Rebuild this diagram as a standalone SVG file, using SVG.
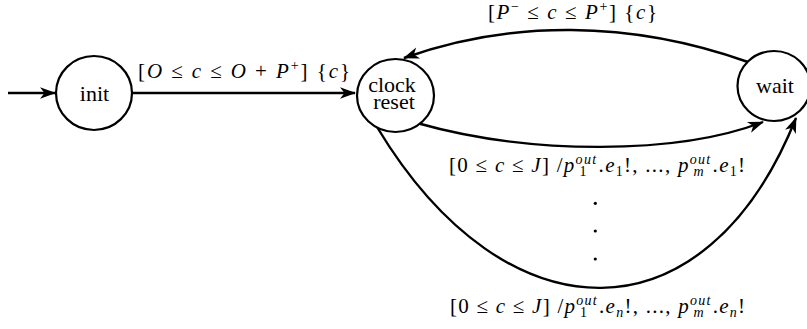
<svg xmlns="http://www.w3.org/2000/svg" width="807" height="329" viewBox="0 0 807 329">
  <style>
    .node { fill: #fff; stroke: #000; stroke-width: 2.2; }
    .edge { fill: none; stroke: #000; stroke-width: 2.4; marker-end: url(#stealth); }
    text { font-family: "Liberation Serif", "DejaVu Serif", serif; fill: #000; }
    .name { font-size: 22px; text-anchor: middle; }
    .lbl { font-size: 21px; }
    .i { font-style: italic; }
    .s { font-size: 14px; }
  </style>
  <defs>
    <marker id="stealth" viewBox="-17 -7 19 14" refX="0" refY="0" markerWidth="19" markerHeight="14" markerUnits="userSpaceOnUse" orient="auto">
      <path d="M1,0 L-15,-5.8 L-10.5,0 L-15,5.8 Z" fill="#000"/>
    </marker>
  </defs>

  <!-- transitions -->
  <g id="connectors">
    <path class="edge" d="M8,93 L55,93"/>
    <path class="edge" d="M132,93 L355,93"/>
    <path class="edge" d="M748,62 C630,20 510,20 404,58"/>
    <path class="edge" d="M417,123 C530,155 677,155 763,122"/>
    <path class="edge" d="M377,127 C507,343 706,343 796,118"/>
  </g>

  <!-- states -->
  <g id="init">
    <ellipse class="node" cx="94" cy="93" rx="38" ry="37"/>
    <text class="name" x="94.5" y="101">init</text>
  </g>
  <g id="clock-reset">
    <ellipse class="node" cx="395.5" cy="95.5" rx="38.5" ry="36.5"/>
    <text class="name" x="392" y="92">clock</text>
    <text class="name" x="394" y="109">reset</text>
  </g>
  <g id="wait">
    <ellipse class="node" cx="774" cy="86" rx="36.5" ry="35"/>
    <text class="name" x="775" y="93">wait</text>
  </g>

  <!-- guards and actions -->
  <g id="labels">
    <text class="lbl" x="138" y="78" textLength="212" lengthAdjust="spacing">[<tspan class="i">O</tspan> ≤ <tspan class="i">c</tspan> ≤ <tspan class="i">O</tspan> + <tspan class="i">P</tspan><tspan class="s" dy="-8">+</tspan><tspan dy="8">] {</tspan><tspan class="i">c</tspan>}</text>
    <text class="lbl" x="488" y="19" textLength="169" lengthAdjust="spacing">[<tspan class="i">P</tspan><tspan class="s" dy="-8">−</tspan><tspan dy="8"> ≤ </tspan><tspan class="i">c</tspan> ≤ <tspan class="i">P</tspan><tspan class="s" dy="-8">+</tspan><tspan dy="8">] {</tspan><tspan class="i">c</tspan>}</text>
    <text class="lbl" x="449" y="172" textLength="296" lengthAdjust="spacing">[0 ≤ <tspan class="i">c</tspan> ≤ <tspan class="i">J</tspan>] /<tspan class="i">p</tspan><tspan class="s i" dy="-8">out</tspan><tspan class="s" dx="-17.9" dy="12">1</tspan><tspan dx="10.9" dy="-4">.</tspan><tspan class="i">e</tspan><tspan class="s" dy="4">1</tspan><tspan dy="-4">!, ..., </tspan><tspan class="i">p</tspan><tspan class="s i" dy="-8">out</tspan><tspan class="s i" dx="-17.9" dy="12">m</tspan><tspan dx="7.7" dy="-4">.</tspan><tspan class="i">e</tspan><tspan class="s" dy="4">1</tspan><tspan dy="-4">!</tspan></text>
    <text class="lbl" x="450" y="313" textLength="295" lengthAdjust="spacing">[0 ≤ <tspan class="i">c</tspan> ≤ <tspan class="i">J</tspan>] /<tspan class="i">p</tspan><tspan class="s i" dy="-8">out</tspan><tspan class="s" dx="-17.9" dy="12">1</tspan><tspan dx="10.9" dy="-4">.</tspan><tspan class="i">e</tspan><tspan class="s i" dy="4">n</tspan><tspan dy="-4">!, ..., </tspan><tspan class="i">p</tspan><tspan class="s i" dy="-8">out</tspan><tspan class="s i" dx="-17.9" dy="12">m</tspan><tspan dx="7.7" dy="-4">.</tspan><tspan class="i">e</tspan><tspan class="s i" dy="4">n</tspan><tspan dy="-4">!</tspan></text>
    <circle cx="595.3" cy="203.3" r="1.6"/>
    <circle cx="595.3" cy="231" r="1.6"/>
    <circle cx="595.3" cy="259" r="1.6"/>
  </g>
</svg>
